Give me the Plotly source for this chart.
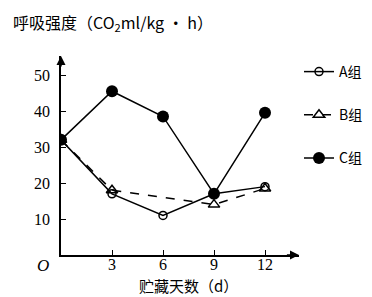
import plotly.graph_objects as go

days_A = [0, 3, 6, 9, 12]
vals_A = [32, 17, 11, 17, 19]
days_B = [0, 3, 9, 12]
vals_B = [32, 18, 14, 18.5]
days_C = [0, 3, 6, 9, 12]
vals_C = [32, 45.5, 38.5, 17, 39.5]
x_ticks = [3, 6, 9, 12]
y_ticks = [10, 20, 30, 40, 50]
names = ["A组", "B组", "C组"]

fig = go.Figure()
fig.add_trace(go.Scatter(x=days_A, y=vals_A, name=names[0], mode="lines+markers",
                         line=dict(color="black", width=1.5),
                         marker=dict(symbol="circle-open", size=8, color="black", line=dict(width=1.5)),
                         legendgroup="a"))
fig.add_trace(go.Scatter(x=days_B, y=vals_B, name=names[1], mode="lines+markers",
                         line=dict(color="black", width=1.5, dash="dash"),
                         marker=dict(symbol="triangle-up-open", size=10, color="black", line=dict(width=1.5)),
                         legendgroup="b"))
fig.add_trace(go.Scatter(x=days_C, y=vals_C, name=names[2], mode="lines+markers",
                         line=dict(color="black", width=1.5),
                         marker=dict(symbol="circle", size=12, color="black"),
                         legendgroup="c"))

tickfont = dict(family="Liberation Serif", size=16, color="black")
fig.update_xaxes(range=[0, 14], showgrid=False, zeroline=False, showline=True,
                 linecolor="black", linewidth=1.5, ticks="inside", ticklen=5,
                 tickcolor="black", tickvals=x_ticks, tickfont=tickfont,
                 ticklabelstandoff=-6)
fig.update_yaxes(range=[0, 55.3], showgrid=False, zeroline=False, showline=True,
                 linecolor="black", linewidth=1.5, ticks="inside", ticklen=5,
                 tickcolor="black", tickvals=y_ticks, tickfont=tickfont,
                 ticklabelstandoff=6)

fig.add_annotation(x=14, y=0, ax=13.2, ay=0, xref="x", yref="y", axref="x", ayref="y",
                   showarrow=True, arrowhead=2, arrowsize=1.2, arrowwidth=1.5, arrowcolor="black", text="")
fig.add_annotation(x=0, y=55.3, ax=0, ay=52, xref="x", yref="y", axref="x", ayref="y",
                   showarrow=True, arrowhead=2, arrowsize=1.2, arrowwidth=1.5, arrowcolor="black", text="")
fig.add_annotation(x=0, y=0, xref="paper", yref="paper", text="<i>O</i>", showarrow=False,
                   xanchor="center", yanchor="middle", xshift=-18, yshift=-10,
                   font=dict(family="Liberation Serif", size=17, color="black"))
fig.add_annotation(x=0, y=1, xref="paper", yref="paper", text="呼吸强度（CO<sub>2</sub>ml/kg · h）",
                   showarrow=False, xanchor="left", yanchor="middle", xshift=-50, yshift=34,
                   font=dict(family="Noto Sans CJK SC", size=16, color="black"))
fig.add_annotation(x=7.5, y=0, xref="x", yref="paper", text="贮藏天数（d）", showarrow=False,
                   yanchor="middle", yshift=-30,
                   font=dict(family="Noto Sans CJK SC", size=15, color="black"))

fig.update_layout(width=372, height=297, margin=dict(l=53, r=77, t=48, b=50),
                  plot_bgcolor="white", paper_bgcolor="white",
                  showlegend=True,
                  legend=dict(x=1.0, y=1.0, xanchor="left", yanchor="top",
                              tracegroupgap=22, itemwidth=30,
                              font=dict(family="Noto Sans CJK SC", size=14, color="black")))
fig.write_html("out.html")
